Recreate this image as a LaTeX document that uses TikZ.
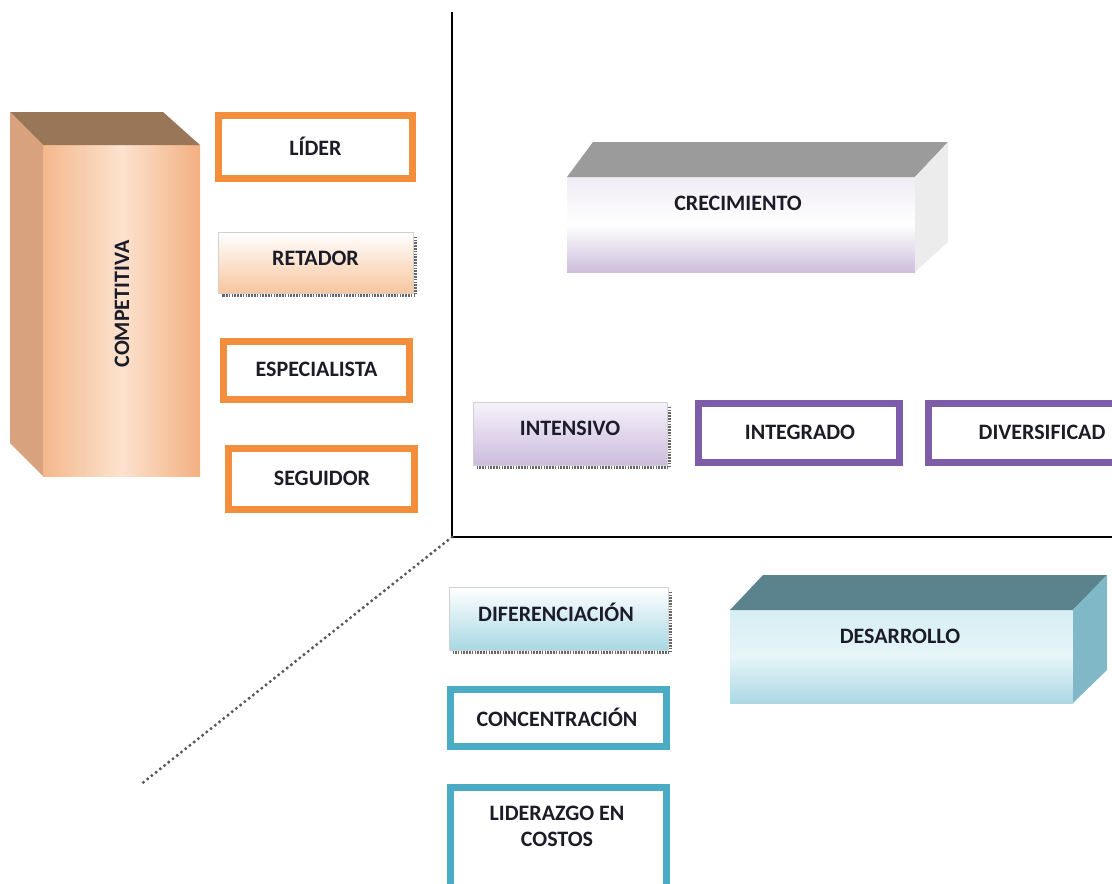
\documentclass[tikz,border=0pt]{standalone}
\usepackage{fontspec}
\setmainfont{Carlito}
\definecolor{borange}{HTML}{F28E3C}
\definecolor{bpurple}{HTML}{7D5CA8}
\definecolor{bteal}{HTML}{4AABC5}
% block faces
\definecolor{compL}{HTML}{F4B88C}
\definecolor{compR}{HTML}{F2B080}
\definecolor{compM}{HTML}{FCE2CF}
\definecolor{compTop}{HTML}{9A7659}
\definecolor{compSide}{HTML}{D9A27E}
\definecolor{crecT}{HTML}{F0ECF4}
\definecolor{crecB}{HTML}{CEBEDC}
\definecolor{crecTop}{HTML}{9B9B9B}
\definecolor{crecSide}{HTML}{ECECEC}
\definecolor{desT}{HTML}{D6EEF4}
\definecolor{desB}{HTML}{ACD8E4}
\definecolor{desM}{HTML}{E6F5F8}
\definecolor{desTop}{HTML}{5B838D}
\definecolor{desSide}{HTML}{80B8C7}
% gradient boxes
\definecolor{retB}{HTML}{F8C69E}
\definecolor{intT}{HTML}{F6F2F9}
\definecolor{intB}{HTML}{CCBCDE}
\definecolor{difB}{HTML}{A8D8E4}
\definecolor{ink}{HTML}{1C1C28}
\begin{document}
\begin{tikzpicture}[x=1pt,y=-1pt,
  lbl/.style={font=\fontsize{22}{26}\selectfont\bfseries, text=ink, align=center, inner sep=0pt},
  framebox/.style={draw=#1, line width=7pt, fill=white, inner sep=0pt},
  softbox/.style={draw=black!18, line width=0.6pt, inner sep=0pt},
  dropshade/.style={draw=black!60, line width=2.4pt, dash pattern=on 1.6pt off 1.2pt},
  axis/.style={draw=black, line width=2pt}]
\useasboundingbox (0,0) rectangle (1112,884);
\clip (0,0) rectangle (1112,884);

% ---- axes ----
\coordinate (top) at (452,12);
\coordinate (orig) at (452,537);
\coordinate (right) at (1112,537);
\coordinate (diag) at (140,785);
\draw[axis] (top) -- (orig) -- (right);
\draw[black!65, line width=3.4pt, line cap=round, dash pattern=on 0pt off 5.4pt] (orig) -- (diag);

% ---- COMPETITIVA block ----
\fill[left color=compL, right color=compR, middle color=compM] (43,145) rectangle (200,476);
\fill[compTop] (10,112) -- (163,112) -- (200,145) -- (43,145) -- cycle;
\fill[compSide] (10,112) -- (43,145) -- (43,476) -- (10,443) -- cycle;
\node[lbl, rotate=90] (comp) at (122,304) {COMPETITIVA};

% ---- competitive roles ----
\node[framebox=borange, minimum width=194pt, minimum height=63pt] (lider) at (315.5,147) {};
\node[lbl] (liderT) at (315.5,146) {LÍDER};

\node[softbox, top color=white, bottom color=retB,
      minimum width=195pt, minimum height=61pt] (ret) at (315.5,262.5) {};
\draw[dropshade] ([xshift=2pt,yshift=-5pt]ret.north east) -- ([xshift=2pt,yshift=-2pt]ret.south east) -- ([xshift=4pt,yshift=-2pt]ret.south west);
\node[lbl] (retT) at (315.5,258) {RETADOR};

\node[framebox=borange, minimum width=186pt, minimum height=58pt] (esp) at (316.5,370.5) {};
\node[lbl] (espT) at (316.5,369) {ESPECIALISTA};

\node[framebox=borange, minimum width=186pt, minimum height=61pt] (seg) at (321.5,479) {};
\node[lbl] (segT) at (322,478) {SEGUIDOR};

% ---- CRECIMIENTO block ----
\fill[top color=crecT, bottom color=crecB, middle color=white] (567,177) rectangle (915,272);
\fill[crecTop] (593,142) -- (948,142) -- (915,177) -- (567,177) -- cycle;
\fill[crecSide] (915,177) -- (948,142) -- (948,242) -- (915,272) -- cycle;
\node[lbl] (crec) at (738,203) {CRECIMIENTO};

% ---- growth options ----
\node[softbox, top color=intT, bottom color=intB,
      minimum width=194pt, minimum height=63pt] (int) at (570,433.5) {};
\draw[dropshade] ([xshift=2pt,yshift=-5pt]int.north east) -- ([xshift=2pt,yshift=-2pt]int.south east) -- ([xshift=4pt,yshift=-2pt]int.south west);
\node[lbl] (intTx) at (570,428) {INTENSIVO};

\node[framebox=bpurple, minimum width=201pt, minimum height=59pt] (integ) at (799,433) {};
\node[lbl] (integT) at (800,432) {INTEGRADO};

\node[framebox=bpurple, minimum width=215pt, minimum height=59pt] (div) at (1035.5,433) {};
\node[lbl] (divT) at (1042,432) {DIVERSIFICAD};

% ---- DESARROLLO block ----
\fill[top color=desT, bottom color=desB, middle color=desM] (730,610) rectangle (1073,703);
\fill[desTop] (763,575) -- (1107,575) -- (1073,610) -- (730,610) -- cycle;
\fill[desSide] (1073,610) -- (1107,575) -- (1107,670) -- (1073,703) -- cycle;
\node[lbl] (des) at (900,636) {DESARROLLO};

% ---- development options ----
\node[softbox, top color=white, bottom color=difB,
      minimum width=219pt, minimum height=63pt] (dif) at (558.5,618.5) {};
\draw[dropshade] ([xshift=2pt,yshift=-5pt]dif.north east) -- ([xshift=2pt,yshift=-2pt]dif.south east) -- ([xshift=4pt,yshift=-2pt]dif.south west);
\node[lbl] (difT) at (556,612) {DIFERENCIACIÓN};

\node[framebox=bteal, minimum width=216pt, minimum height=57pt] (conc) at (558.5,718) {};
\node[lbl] (concT) at (557,717) {CONCENTRACIÓN};

\node[framebox=bteal, minimum width=216pt, minimum height=110pt] (lid) at (558.5,842) {};
\node[lbl] (lidT) at (557,826) {LIDERAZGO EN\\COSTOS};
\end{tikzpicture}
\end{document}
